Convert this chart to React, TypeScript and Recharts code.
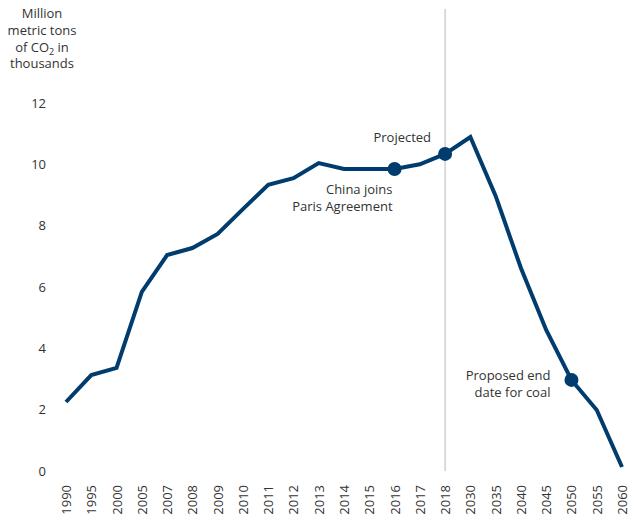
import { Line, LineChart, ReferenceDot, ReferenceLine, XAxis, YAxis } from "recharts";

const years = [
  "1990", "1995", "2000", "2005", "2007", "2008", "2009", "2010", "2011", "2012", "2013", "2014",
  "2015", "2016", "2017", "2018", "2030", "2035", "2040", "2045", "2050", "2055", "2060",
];
const emissions = [
  2.25, 3.13, 3.36, 5.84, 7.04, 7.27, 7.73, 8.54, 9.33, 9.55, 10.04, 9.85,
  9.85, 9.85, 10.0, 10.34, 10.89, 8.97, 6.62, 4.6, 2.97, 1.99, 0.13,
];
const yTicks = [0, 2, 4, 6, 8, 10, 12];

const milestones = [
  { year: "2016", text: ["China joins", "Paris Agreement"], dx: -2, dy: 20 },
  { year: "2018", text: ["Projected"], dx: -14, dy: -17 },
  { year: "2050", text: ["Proposed end", "date for coal"], dx: -21, dy: -5 },
];

const NAVY = "#003d6e";
const INK = "#333333";
const FONT = "'Open Sans', sans-serif";

const data = years.map((year, i) => ({ year, value: emissions[i] }));
const valueOf = (year: string) => emissions[years.indexOf(year)];

// year labels read bottom-to-top, their top end just under the plot
function YearTick({ x, y, payload }: any) {
  return (
    <text
      transform={`translate(${x},${y + 6}) rotate(-90)`}
      textAnchor="end"
      dominantBaseline="central"
      fontSize={13}
      fontFamily={FONT}
      fill={INK}
    >
      {payload.value}
    </text>
  );
}

function MilestoneLabel(lines: string[], dx: number, dy: number) {
  return ({ viewBox }: any) => {
    const cx = viewBox.x + viewBox.width / 2;
    const cy = viewBox.y + viewBox.height / 2;
    return (
      <text textAnchor="end" fontSize={13} fontFamily={FONT} fill={INK}>
        {lines.map((line, i) => (
          <tspan key={i} x={cx + dx} y={cy + dy + i * 17} dominantBaseline="central">
            {line}
          </tspan>
        ))}
      </text>
    );
  };
}

function UnitLabel() {
  return (
    <g fontSize={13} fontFamily={FONT} fill={INK}>
      <text x={42} y={18} textAnchor="middle">Million</text>
      <text x={42} y={35} textAnchor="middle">metric tons</text>
      <text x={42} y={52} textAnchor="middle">
        of CO<tspan fontSize={9} dy={3}>2</tspan>
        <tspan dy={-3}> in</tspan>
      </text>
      <text x={42} y={68} textAnchor="middle">thousands</text>
    </g>
  );
}

export default function App() {
  return (
    <div style={{ position: "absolute", left: 0, top: 0, background: "#fff" }}>
      <LineChart width={630} height={518} data={data} margin={{ top: 9, right: 8, bottom: 0, left: 0 }}>
        <XAxis
          dataKey="year"
          interval={0}
          tick={<YearTick />}
          tickLine={false}
          axisLine={false}
          height={47}
        />
        <YAxis
          type="number"
          domain={[0, 15.065]}
          ticks={yTicks}
          allowDataOverflow
          width={66}
          tickLine={false}
          axisLine={false}
          tickSize={0}
          tickMargin={20}
          tick={{ fontSize: 13, fontFamily: FONT, fill: INK }}
        />
        <UnitLabel />
        <ReferenceLine x="2018" stroke="#d3cfcb" strokeWidth={1.5} />
        <Line
          type="linear"
          dataKey="value"
          stroke={NAVY}
          strokeWidth={4}
          dot={false}
          activeDot={false}
          isAnimationActive={false}
        />
        {milestones.map((m) => (
          <ReferenceDot
            key={m.year}
            x={m.year}
            y={valueOf(m.year)}
            r={7}
            fill={NAVY}
            stroke="none"
            label={MilestoneLabel(m.text, m.dx, m.dy)}
          />
        ))}
      </LineChart>
    </div>
  );
}
